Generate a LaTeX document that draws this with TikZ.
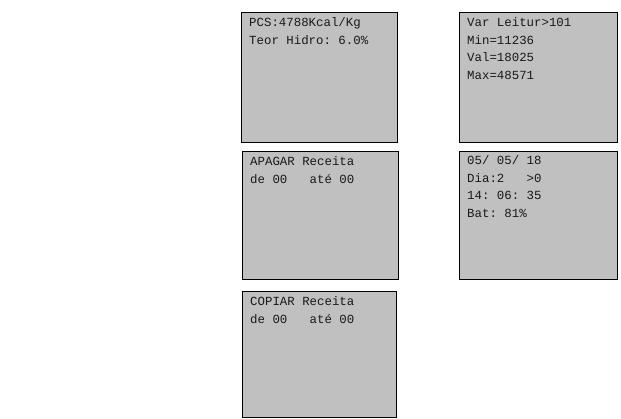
\documentclass[tikz,border=0pt]{standalone}
\usepackage{fontspec}
\setmonofont{Liberation Mono}
\definecolor{lcdgray}{HTML}{C0C0C0}
\begin{document}
\begin{tikzpicture}[x=1pt,y=-1pt,
  screen/.style={draw=black, line width=0.9pt, fill=lcdgray, anchor=north west, inner sep=0pt, minimum width=#1},
  screen/.default=156pt,
  lcdtext/.style={anchor=base west, inner sep=0pt, font=\ttfamily\fontsize{12.4}{17.4}\selectfont, text=black!90}]
\useasboundingbox (0,0) rectangle (621,419);
\node[screen, minimum height=130pt] (b1) at (241,12) {};
\node[screen=158pt, minimum height=130pt] (b2) at (459,12) {};
\node[screen, minimum height=128pt] (b3) at (242,151) {};
\node[screen=158pt, minimum height=128pt] (b4) at (459,151) {};
\node[screen=154pt, minimum height=126pt] (b5) at (242,291) {};
% screen 1
\node[lcdtext] (t1a) at (249,27) {PCS:4788Kcal/Kg};
\node[lcdtext] (t1b) at (249,44.4) {Teor Hidro: 6.0\%};
% screen 2
\node[lcdtext] (t2a) at (467,27) {Var Leitur>101};
\node[lcdtext] (t2b) at (467,44.4) {Min=11236};
\node[lcdtext] (t2c) at (467,61.8) {Val=18025};
\node[lcdtext] (t2d) at (467,79.2) {Max=48571};
% screen 3
\node[lcdtext] (t3a) at (250,166) {APAGAR Receita};
\node[lcdtext] (t3b) at (250,183.4) {de 00\ \ \ até 00};
% screen 4
\node[lcdtext] (t4a) at (467,165) {05/ 05/ 18};
\node[lcdtext] (t4b) at (467,182.4) {Dia:2\ \ \ >0};
\node[lcdtext] (t4c) at (467,199.8) {14: 06: 35};
\node[lcdtext] (t4d) at (467,217.2) {Bat: 81\%};
% screen 5
\node[lcdtext] (t5a) at (250,306) {COPIAR Receita};
\node[lcdtext] (t5b) at (250,323.4) {de 00\ \ \ até 00};
\end{tikzpicture}
\end{document}
